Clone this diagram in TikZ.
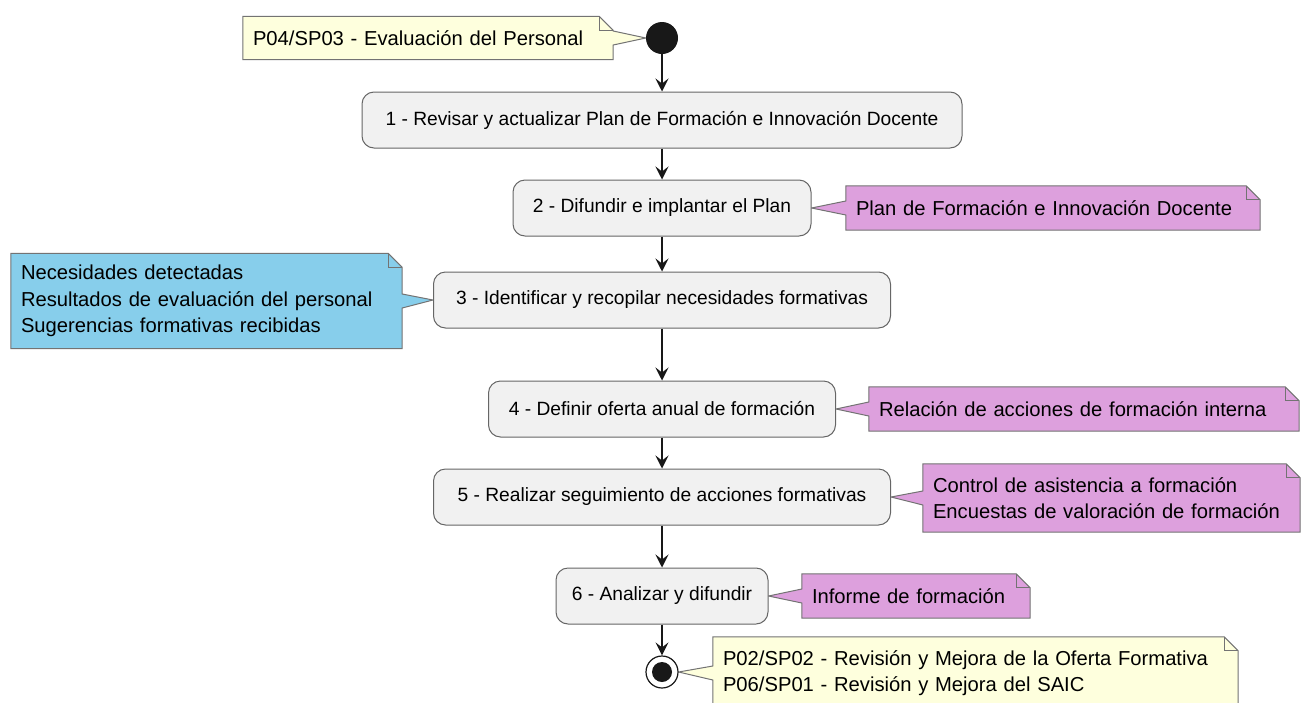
\documentclass[tikz,border=0pt]{standalone}
\usepackage{fontspec}
\setmainfont{Liberation Sans}
\usetikzlibrary{arrows.meta}
\usetikzlibrary{backgrounds}

\definecolor{actfill}{HTML}{F1F1F1}
\definecolor{noteyellow}{HTML}{FEFFDD}
\definecolor{noteplum}{HTML}{DDA0DD}
\definecolor{noteblue}{HTML}{87CEEB}
\definecolor{ink}{HTML}{181818}

\begin{document}
\begin{tikzpicture}
	[x=1pt, y=-1pt,
	activity/.style={draw=black!60, line width=1pt, fill=actfill, rounded corners=12pt, minimum height=56pt, inner sep=0pt, font=\fontsize{19.2pt}{23pt}\selectfont},
	note/.style={inner xsep=10pt, inner ysep=0pt, align=left, font=\fontsize{20.2pt}{26.5pt}\selectfont, execute at begin node={\hyphenpenalty=10000\relax}},
	notebd/.style={draw=black!55, line width=1pt},
	flow/.style={draw=ink, line width=1.3pt, -{Stealth[length=13pt,width=13pt,inset=5pt]}}]

\clip (0,0) rectangle (1302,702);

% start and end
\node [circle, fill=ink, minimum size=32pt, inner sep=0pt] (start) at (662,38) {};
\node [circle, draw=ink, line width=1.2pt, fill=white, minimum size=32pt, inner sep=0pt] (stop) at (662,672) {};
\fill [ink] (stop) circle (10pt);

% activities
\node [activity, minimum width=600pt] (a1) at (662,120) {1 - Revisar y actualizar Plan de Formación e Innovación Docente};
\node [activity, minimum width=298pt] (a2) at (662,208) {2 - Difundir e implantar el Plan};
\node [activity, minimum width=457pt] (a3) at (662,300) {3 - Identificar y recopilar necesidades formativas};
\node [activity, minimum width=347pt] (a4) at (662,409) {4 - Definir oferta anual de formación};
\node [activity, minimum width=457pt] (a5) at (662,497) {5 - Realizar seguimiento de acciones formativas};
\node [activity, minimum width=212pt] (a6) at (662,596) {6 - Analizar y difundir};

\draw [flow] (start) -- (a1);
\draw [flow] (a1) -- (a2);
\draw [flow] (a2) -- (a3);
\draw [flow] (a3) -- (a4);
\draw [flow] (a4) -- (a5);
\draw [flow] (a5) -- (a6);
\draw [flow] (a6) -- (stop);

% notes
\node [note, text width=350pt, minimum height=43pt] (n1) at (428,38) {P04/SP03 - Evaluación del Personal};
\node [note, text width=394pt, minimum height=44pt] (n2) at (1053,208) {Plan de Formación e Innovación Docente};
\node [note, text width=371pt, minimum height=95pt] (n3) at (206.5,301) {Necesidades detectadas\\Resultados de evaluación del personal\\Sugerencias formativas recibidas};
\node [note, text width=410pt, minimum height=44pt] (n4) at (1084,409) {Relación de acciones de formación interna};
\node [note, text width=357pt, minimum height=68pt] (n5) at (1111.5,498) {Control de asistencia a formación\\Encuestas de valoración de formación};
\node [note, text width=208pt, minimum height=44pt] (n6) at (916,596) {Informe de formación};
\node [note, text width=505pt, minimum height=72pt] (n7) at (975.5,673) {P02/SP02 - Revisión y Mejora de la Oferta Formativa\\P06/SP01 - Revisión y Mejora del SAIC};

\begin{scope}[on background layer]
% note outlines, tail on the left
\foreach \n/\t/\c in {n2/a2/noteplum, n4/a4/noteplum, n5/a5/noteplum, n6/a6/noteplum, n7/stop/noteyellow}
{
	\filldraw [notebd, fill=\c] (\n.north west) -- ([xshift=-14pt]\n.north east) -- ([yshift=-14pt]\n.north east) -- (\n.south east) -- (\n.south west) -- ([yshift=-7pt]\n.west) -- (\t.east) -- ([yshift=7pt]\n.west) -- cycle;
	\draw [notebd] ([xshift=-14pt]\n.north east) |- ([yshift=-14pt]\n.north east);
}
% tail on the right
\foreach \n/\t/\c in {n1/start/noteyellow, n3/a3/noteblue}
{
	\filldraw [notebd, fill=\c] (\n.north west) -- ([xshift=-14pt]\n.north east) -- ([yshift=-14pt]\n.north east) -- ([yshift=7pt]\n.east) -- (\t.west) -- ([yshift=-7pt]\n.east) -- (\n.south east) -- (\n.south west) -- cycle;
	\draw [notebd] ([xshift=-14pt]\n.north east) |- ([yshift=-14pt]\n.north east);
}
\end{scope}

\end{tikzpicture}
\end{document}
